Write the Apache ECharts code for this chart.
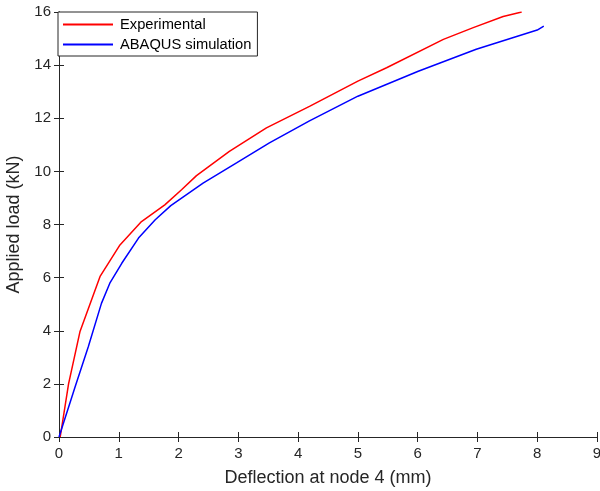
<!DOCTYPE html>
<html>
<head>
<meta charset="utf-8">
<script src="https://cdn.jsdelivr.net/npm/echarts@6/dist/echarts.min.js"></script>
<style>
  html, body { margin: 0; padding: 0; background: #fff; }
  #chart { width: 600px; height: 491px; }
</style>
</head>
<body>
<div id="chart"></div>
<script>
// deflection (mm) / load (kN)
var expX = [0.02, 0.16, 0.35, 0.69, 1.02, 1.38, 1.77, 2.05, 2.30, 2.85, 3.47, 4.19, 5.0, 5.48, 6.43, 6.93, 7.43, 7.74];
var expY = [0, 2.0, 3.96, 6.06, 7.23, 8.11, 8.74, 9.31, 9.84, 10.75, 11.64, 12.45, 13.4, 13.9, 14.97, 15.41, 15.83, 16.0];
var simX = [0, 0.27, 0.49, 0.71, 0.85, 1.05, 1.33, 1.61, 1.87, 2.41, 2.97, 3.52, 4.19, 5.0, 6.01, 6.98, 8.0, 8.11];
var simY = [0, 1.89, 3.4, 5.03, 5.79, 6.54, 7.49, 8.18, 8.71, 9.56, 10.32, 11.07, 11.9, 12.83, 13.77, 14.6, 15.32, 15.47];
var xTicks = [0, 9, 1];
var yTicks = [0, 16, 2];

function pairs(xs, ys) {
  return xs.map(function (x, i) { return [x, ys[i]]; });
}

var axisColor = "#262626";
var font = "Liberation Sans, Arial, sans-serif";

var myChart = echarts.init(document.getElementById("chart"));
myChart.setOption({
  animation: false,
  grid: { left: 59, right: 3, top: 12, bottom: 54, containLabel: false, outerBoundsMode: "none" },
  legend: {
    orient: "vertical",
    left: 58,
    top: 12,
    padding: [5, 6, 4, 5],
    itemGap: 5,
    itemWidth: 50,
    itemHeight: 2,
    icon: "rect",
    backgroundColor: "#fff",
    borderColor: axisColor,
    borderWidth: 1,
    textStyle: { fontFamily: font, fontSize: 14.7, color: "#000", padding: [0, 0, 0, 2] },
    data: ["Experimental", "ABAQUS simulation"]
  },
  xAxis: [
    {
      type: "value",
      min: xTicks[0],
      max: xTicks[1],
      interval: xTicks[2],
      name: "Deflection at node 4 (mm)",
      nameLocation: "middle",
      nameGap: 32,
      nameTextStyle: { fontFamily: font, fontSize: 18, color: axisColor },
      axisLine: { lineStyle: { color: axisColor } },
      axisTick: { inside: true, length: 5, lineStyle: { color: axisColor } },
      axisLabel: { fontFamily: font, fontSize: 15, color: axisColor, margin: 9 },
      splitLine: { show: false }
    },
    {
      type: "value",
      position: "top",
      min: xTicks[0],
      max: xTicks[1],
      interval: xTicks[2],
      axisLine: { show: true, lineStyle: { color: axisColor } },
      axisTick: { inside: true, length: 5, lineStyle: { color: axisColor } },
      axisLabel: { show: false },
      splitLine: { show: false }
    }
  ],
  yAxis: [
    {
      type: "value",
      min: yTicks[0],
      max: yTicks[1],
      interval: yTicks[2],
      name: "Applied load (kN)",
      nameLocation: "middle",
      nameGap: 31,
      nameTextStyle: { fontFamily: font, fontSize: 18, color: axisColor },
      axisLine: { show: true, lineStyle: { color: axisColor } },
      axisTick: { show: true, inside: true, length: 5, lineStyle: { color: axisColor } },
      axisLabel: { fontFamily: font, fontSize: 15, color: axisColor, margin: 8 },
      splitLine: { show: false }
    },
    {
      type: "value",
      position: "right",
      min: yTicks[0],
      max: yTicks[1],
      interval: yTicks[2],
      axisLine: { show: true, lineStyle: { color: axisColor } },
      axisTick: { show: true, inside: true, length: 5, lineStyle: { color: axisColor } },
      axisLabel: { show: false },
      splitLine: { show: false }
    }
  ],
  series: [
    {
      name: "Experimental",
      type: "line",
      data: pairs(expX, expY),
      showSymbol: false,
      symbol: "none",
      lineStyle: { color: "#ff0000", width: 1.5 },
      itemStyle: { color: "#ff0000" }
    },
    {
      name: "ABAQUS simulation",
      type: "line",
      data: pairs(simX, simY),
      showSymbol: false,
      symbol: "none",
      lineStyle: { color: "#0000ff", width: 1.5 },
      itemStyle: { color: "#0000ff" }
    }
  ]
});
</script>
</body>
</html>
